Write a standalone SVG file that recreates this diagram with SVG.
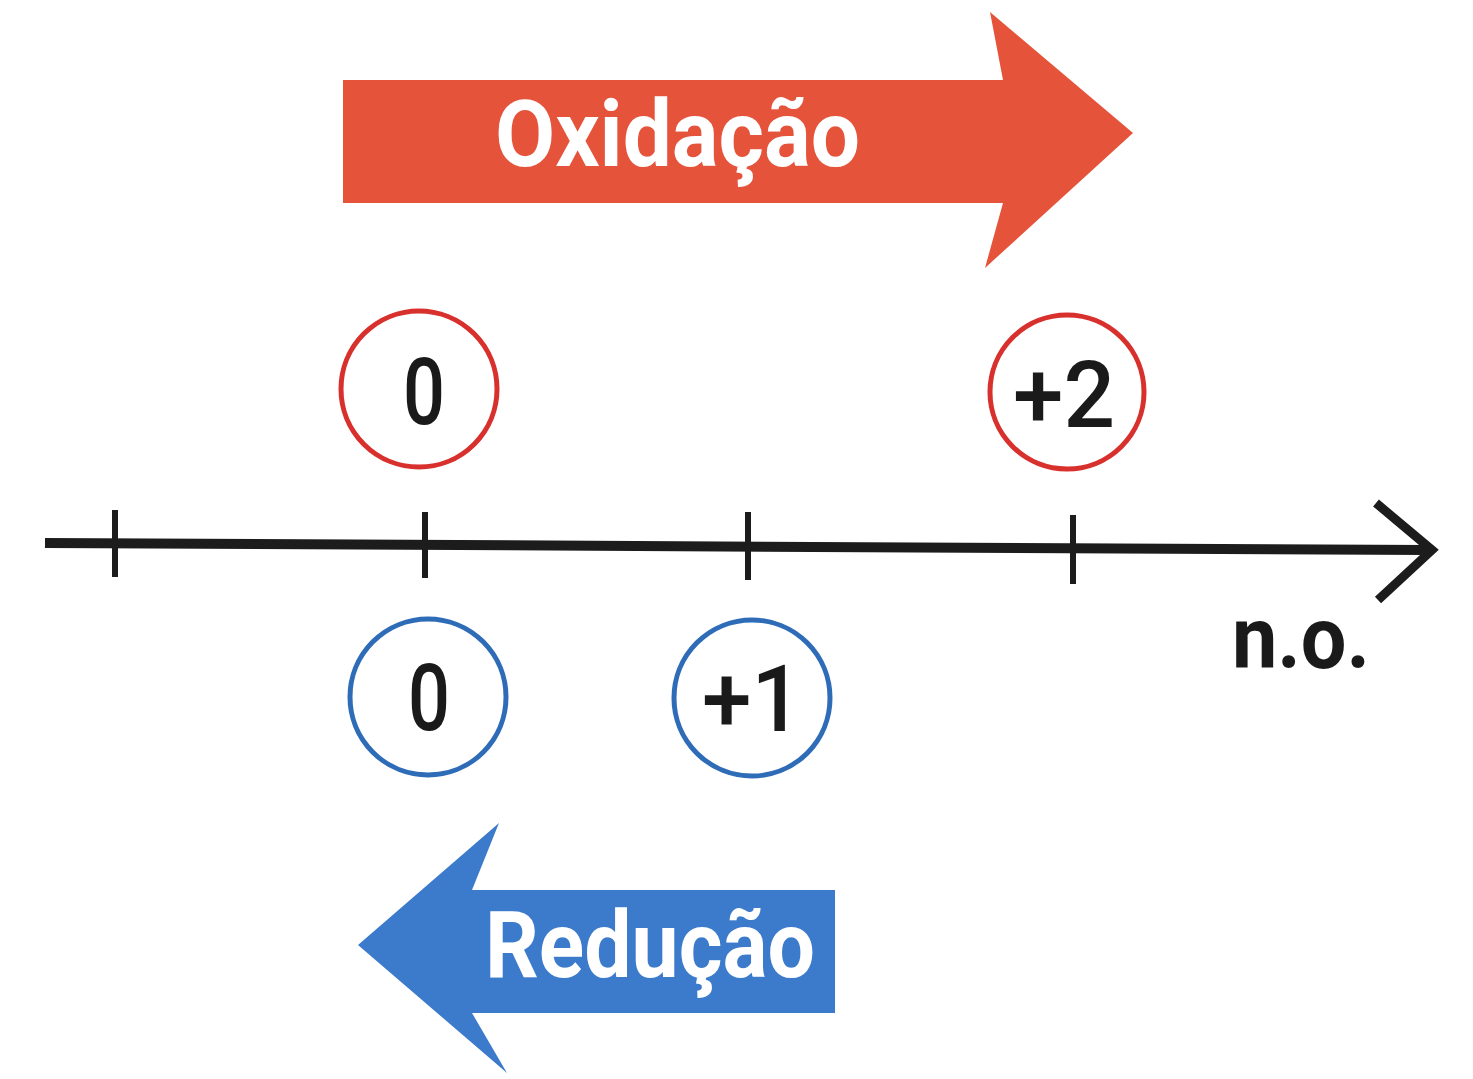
<svg xmlns="http://www.w3.org/2000/svg" width="1473" height="1079" viewBox="0 0 1473 1079">
<style>
.lbl{font-family:Roboto,"Liberation Sans",sans-serif;font-weight:bold;fill:#fff;}
.num{font-family:Roboto,"Liberation Sans",sans-serif;font-weight:500;fill:#1a1a1a;text-anchor:middle;}
.rc{fill:none;stroke:#D8302C;stroke-width:5;}
.bc{fill:none;stroke:#2F6CB8;stroke-width:5;}
.axis{stroke:#1c1c1c;fill:none;stroke-linecap:butt;}
</style>
<rect width="1473" height="1079" fill="#ffffff"/>
<g id="oxidacao">
<polygon points="343,80 1003,80 990,12 1133,133 985,268 1003,203 343,203" fill="#E5533B"/>
<text class="lbl" x="495" y="166" font-size="92" textLength="365" lengthAdjust="spacingAndGlyphs">Oxidação</text>
</g>
<g id="reducao">
<polygon points="835,890 472,890 499,823 358,945 507,1073 472,1013 835,1013" fill="#3C7BCB"/>
<text class="lbl" x="485" y="977" font-size="92" textLength="330" lengthAdjust="spacingAndGlyphs">Redução</text>
</g>
<g id="connectors">
<line class="axis" x1="45" y1="543" x2="1428" y2="550" stroke-width="10"/>
<polyline class="axis" points="1376,503 1432,550 1378,600" stroke-width="9"/>
<line class="axis" x1="115" y1="510" x2="115" y2="577" stroke-width="6"/>
<line class="axis" x1="425" y1="512" x2="425" y2="578" stroke-width="6"/>
<line class="axis" x1="748" y1="512" x2="748" y2="580" stroke-width="6"/>
<line class="axis" x1="1073" y1="515" x2="1073" y2="584" stroke-width="6"/>
</g>
<g id="ox-0">
<circle class="rc" cx="419" cy="389" r="78"/>
<text class="num" x="424" y="424" font-size="92" textLength="42" lengthAdjust="spacingAndGlyphs">0</text>
</g>
<g id="ox-plus2">
<circle class="rc" cx="1067" cy="392" r="77"/>
<text class="num" x="1064" y="427" font-size="92" textLength="102" lengthAdjust="spacingAndGlyphs">+2</text>
</g>
<g id="red-0">
<circle class="bc" cx="428" cy="697" r="78"/>
<text class="num" x="429" y="730" font-size="92" textLength="42" lengthAdjust="spacingAndGlyphs">0</text>
</g>
<g id="red-plus1">
<circle class="bc" cx="752" cy="698" r="78"/>
<text class="num" x="752" y="731" font-size="92" textLength="100" lengthAdjust="spacingAndGlyphs">+1</text>
</g>
<g id="no-label">
<text x="1232" y="668" font-family="Roboto,'Liberation Sans',sans-serif" font-weight="bold" font-size="88" fill="#1a1a1a" textLength="138" lengthAdjust="spacingAndGlyphs">n.o.</text>
</g>
</svg>
